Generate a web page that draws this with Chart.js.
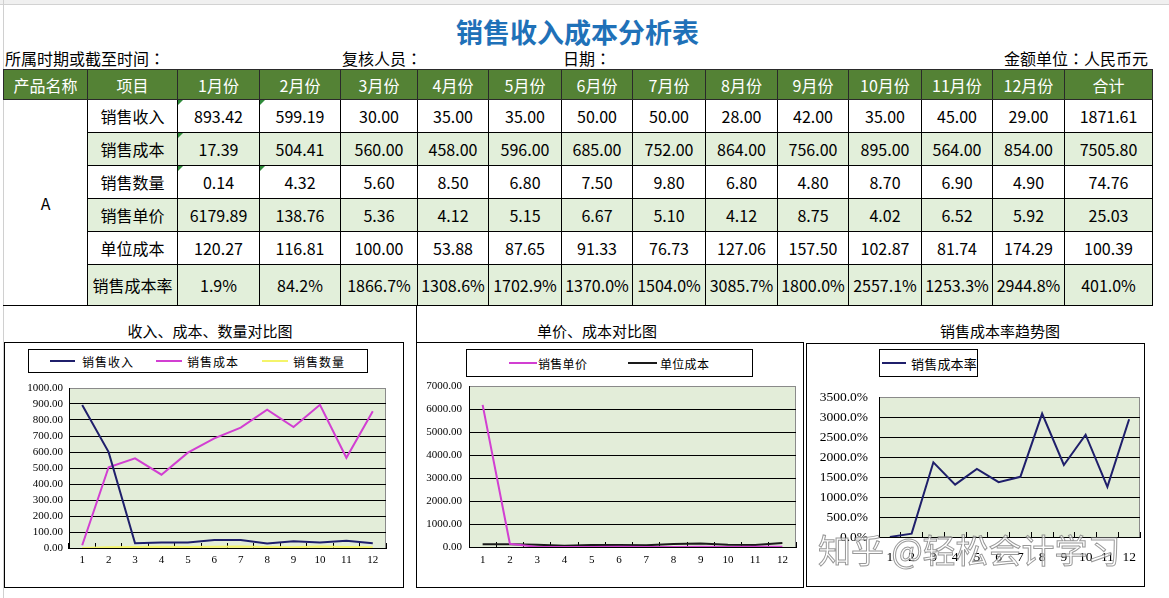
<!DOCTYPE html>
<html lang="zh-CN">
<head>
    <meta charset="UTF-8">
    <title>销售收入成本分析表</title>
    <style>
        body {
            margin: 0;
            width: 1169px;
            height: 598px;
            position: relative;
            overflow: hidden;
            background: #fff;
            font-family: "Noto Sans CJK SC", sans-serif;
            color: #000;
        }
        .abs { position: absolute; }
        #topStrip { left: 0; top: 0; width: 1169px; height: 4px; background: #f0f0f0; border-bottom: 1px solid #d2d2d2; }
        #gutter { left: 3px; top: 0; width: 1px; height: 598px; background: #d0d0d0; }
        #title {
            left: 0; width: 1155px; top: 12px;
            text-align: center; font-size: 27px; font-weight: bold;
            color: #1F71B8; line-height: 40px;
        }
        .sub { top: 48px; font-size: 16px; line-height: 20px; white-space: nowrap; }
        .colon { font-family: "Noto Sans CJK TC", sans-serif; }
        table {
            position: absolute; left: 3px; top: 69px;
            border-collapse: collapse; table-layout: fixed; width: 1149px;
        }
        th, td {
            border: 1px solid #000; padding: 0; text-align: center;
            font-size: 16px; font-weight: normal; white-space: nowrap;
        }
        th { background: #548235; color: #fff; height: 29px; border-color: #2a2a2a; }
        td { height: 32px; position: relative; }
        tr.alt td { background: #E2EFDA; }
        tr.last td { height: 40px; }
        td.prod { background: #fff !important; border-left-color: #d0d0d0; }
        td.mark::before {
            content: ''; position: absolute; left: 0; top: 0;
            border-top: 5px solid #2E8B3A; border-right: 5px solid transparent;
        }
        .ctitle { font-size: 15px; line-height: 20px; text-align: center; width: 300px; top: 321px; }
        .box { border: 1px solid #000; box-sizing: border-box; }
        .legend { border: 1px solid #000; box-sizing: border-box; background: #fff; }
        .item { position: absolute; top: 0; height: 100%; display: flex; align-items: center; white-space: nowrap; }
        .swatch { display: inline-block; height: 2px; }
        canvas { position: absolute; }
        #watermark {
            left: 818px; top: 529px; font-size: 33px; line-height: 40px; white-space: nowrap;
            color: rgba(255, 255, 255, 0.6); -webkit-text-stroke: 1px rgba(110, 110, 110, 0.7);
            pointer-events: none;
        }
    </style>
</head>
<body>
    <div id="topStrip" class="abs"></div>
    <div id="gutter" class="abs"></div>
    <div id="title" class="abs">销售收入成本分析表</div>
    <div class="abs sub" style="left:5px">所属时期或截至时间<span class="colon" lang="zh-TW">：</span></div>
    <div class="abs sub" style="left:342px">复核人员<span class="colon" lang="zh-TW">：</span></div>
    <div class="abs sub" style="left:563px">日期<span class="colon" lang="zh-TW">：</span></div>
    <div class="abs sub" style="left:1004px">金额单位<span class="colon" lang="zh-TW">：</span>人民币元</div>

    <table id="dataTable">
        <colgroup id="cols"></colgroup>
        <thead><tr id="headRow"></tr></thead>
        <tbody id="tableBody"></tbody>
    </table>

    <!-- chart 1 -->
    <div class="abs ctitle" style="left:60px">收入、成本、数量对比图</div>
    <div class="abs box" style="left:4px;top:342px;width:400px;height:246px"></div>
    <div class="abs legend" id="legend1" style="left:28px;top:349px;width:340px;height:24px"></div>
    <canvas id="chart1" width="398" height="208" style="left:5px;top:378px"></canvas>

    <!-- chart 2 -->
    <div class="abs" style="left:416px;top:305px;width:1px;height:38px;background:#000"></div>
    <div class="abs ctitle" style="left:447px">单价、成本对比图</div>
    <div class="abs box" style="left:416px;top:342px;width:388px;height:246px"></div>
    <div class="abs legend" id="legend2" style="left:466px;top:349px;width:287px;height:28px"></div>
    <canvas id="chart2" width="384" height="210" style="left:418px;top:376px"></canvas>

    <!-- chart 3 -->
    <div class="abs ctitle" style="left:850px">销售成本率趋势图</div>
    <div class="abs box" style="left:806px;top:343px;width:339px;height:244px"></div>
    <div class="abs legend" id="legend3" style="left:879px;top:349px;width:99px;height:28px"></div>
    <canvas id="chart3" width="336" height="200" style="left:807px;top:385px"></canvas>

    <div id="watermark" class="abs">知乎 @轻松会计学习</div>

    <script src="https://cdn.jsdelivr.net/npm/chart.js"></script>
    <script>
        const months = ['1月份', '2月份', '3月份', '4月份', '5月份', '6月份', '7月份', '8月份', '9月份', '10月份', '11月份', '12月份'];
        const monthNums = ['1', '2', '3', '4', '5', '6', '7', '8', '9', '10', '11', '12'];

        const salesRevenue = [893.42, 599.19, 30.00, 35.00, 35.00, 50.00, 50.00, 28.00, 42.00, 35.00, 45.00, 29.00];
        const salesCost = [17.39, 504.41, 560.00, 458.00, 596.00, 685.00, 752.00, 864.00, 756.00, 895.00, 564.00, 854.00];
        const salesQty = [0.14, 4.32, 5.60, 8.50, 6.80, 7.50, 9.80, 6.80, 4.80, 8.70, 6.90, 4.90];
        const unitPrice = [6179.89, 138.76, 5.36, 4.12, 5.15, 6.67, 5.10, 4.12, 8.75, 4.02, 6.52, 5.92];
        const unitCost = [120.27, 116.81, 100.00, 53.88, 87.65, 91.33, 76.73, 127.06, 157.50, 102.87, 81.74, 174.29];
        const costRate = [1.9, 84.2, 1866.7, 1308.6, 1702.9, 1370.0, 1504.0, 3085.7, 1800.0, 2557.1, 1253.3, 2944.8];
        const totals = [1871.61, 7505.80, 74.76, 25.03, 100.39, 401.0];

        const colWidths = [84, 90, 82, 81, 77, 71, 73, 71, 73, 72, 71, 73, 71, 72, 88];

        // ---- table ----
        const cols = document.getElementById('cols');
        colWidths.forEach(w => {
            const c = document.createElement('col');
            c.style.width = w + 'px';
            cols.appendChild(c);
        });
        const headRow = document.getElementById('headRow');
        ['产品名称', '项目', ...months, '合计'].forEach(h => {
            const th = document.createElement('th');
            th.innerText = h;
            headRow.appendChild(th);
        });

        const tableRows = [
            { name: '销售收入', values: salesRevenue, total: totals[0], pct: false },
            { name: '销售成本', values: salesCost, total: totals[1], pct: false },
            { name: '销售数量', values: salesQty, total: totals[2], pct: false },
            { name: '销售单价', values: unitPrice, total: totals[3], pct: false },
            { name: '单位成本', values: unitCost, total: totals[4], pct: false },
            { name: '销售成本率', values: costRate, total: totals[5], pct: true }
        ];
        // little green error markers in the sheet
        const marked = ['0-0', '0-1', '1-0', '2-0', '2-1'];

        const body = document.getElementById('tableBody');
        tableRows.forEach((row, r) => {
            const tr = document.createElement('tr');
            if (r % 2 === 1) tr.className = 'alt';
            if (r === tableRows.length - 1) tr.className += ' last';
            if (r === 0) {
                const prod = document.createElement('td');
                prod.className = 'prod';
                prod.rowSpan = tableRows.length;
                prod.innerText = 'A';
                tr.appendChild(prod);
            }
            const fmt = v => row.pct ? v.toFixed(1) + '%' : v.toFixed(2);
            const nameCell = document.createElement('td');
            nameCell.innerText = row.name;
            tr.appendChild(nameCell);
            row.values.forEach((v, i) => {
                const td = document.createElement('td');
                td.innerText = fmt(v);
                if (marked.includes(r + '-' + i)) td.className = 'mark';
                tr.appendChild(td);
            });
            const tot = document.createElement('td');
            tot.innerText = fmt(row.total);
            tr.appendChild(tot);
            body.appendChild(tr);
        });

        // ---- legends ----
        function buildLegend(id, items, fontSize, spacing) {
            const box = document.getElementById(id);
            items.forEach(it => {
                const el = document.createElement('div');
                el.className = 'item';
                el.style.left = it.left + 'px';
                el.style.fontSize = fontSize + 'px';
                el.style.letterSpacing = spacing + 'px';
                el.innerHTML = `<span class="swatch" style="width:${it.line}px;background:${it.color};margin-right:${it.gap}px"></span>${it.text}`;
                box.appendChild(el);
            });
        }

        const navy = '#1F1F6B';
        const magenta = '#D23FD2';
        const yellow = '#F4F46A';
        const dark = '#1A1A1A';

        buildLegend('legend1', [
            { left: 21, line: 25, gap: 7, color: navy, text: '销售收入' },
            { left: 127, line: 26, gap: 5, color: magenta, text: '销售成本' },
            { left: 233, line: 26, gap: 5, color: yellow, text: '销售数量' }
        ], 12, 1);
        buildLegend('legend2', [
            { left: 42, line: 28, gap: 1, color: magenta, text: '销售单价' },
            { left: 161, line: 29, gap: 3, color: dark, text: '单位成本' }
        ], 12, 0.3);
        buildLegend('legend3', [
            { left: 2, line: 24, gap: 5, color: navy, text: '销售成本率' }
        ], 13, 0.2);

        // ---- charts ----
        const plotBg = {
            id: 'plotBg',
            beforeDraw(chart) {
                const { ctx, chartArea: a } = chart;
                ctx.save();
                ctx.fillStyle = '#E3EDD9';
                ctx.fillRect(a.left, a.top, a.right - a.left, a.bottom - a.top);
                ctx.strokeStyle = '#8a8a8a';
                ctx.lineWidth = 1;
                ctx.strokeRect(a.left + 0.5, a.top + 0.5, a.right - a.left - 1, a.bottom - a.top);
                ctx.restore();
            }
        };

        function line(label, data, color) {
            return { label, data, borderColor: color, borderWidth: 2, pointRadius: 0, tension: 0, fill: false };
        }

        // keep the plot area where the sheet has it: no label overflow padding
        function noPad(s) {
            s.paddingTop = 0;
            s.paddingBottom = 0;
            s.paddingLeft = 0;
            s.paddingRight = 0;
        }

        function buildChart(id, datasets, yMax, yStep, fmt, g) {
            const canvas = document.getElementById(id);
            const font = { family: '"Liberation Serif", serif', size: g.font };
            return new Chart(canvas, {
                type: 'line',
                data: { labels: monthNums, datasets },
                options: {
                    responsive: false,
                    animation: false,
                    layout: { padding: { left: 0, top: g.top, right: canvas.width - g.right, bottom: 0 } },
                    plugins: { legend: { display: false }, tooltip: { enabled: false } },
                    scales: {
                        x: {
                            offset: true,
                            grid: { offset: true, drawOnChartArea: false, drawTicks: true, tickLength: -5, color: '#000' },
                            border: { color: '#000' },
                            ticks: { font, color: '#000', padding: g.xPad, maxRotation: 0, autoSkip: false },
                            afterFit: s => { s.height = canvas.height - g.bottom; noPad(s); }
                        },
                        y: {
                            min: 0,
                            max: yMax,
                            ticks: { stepSize: yStep, autoSkip: false, font, color: '#000', padding: g.yPad, callback: fmt },
                            grid: {
                                drawTicks: false,
                                color: ctx => (ctx.tick && ctx.tick.value >= yMax) ? 'rgba(0,0,0,0)' : '#000'
                            },
                            border: { color: '#000' },
                            afterFit: s => { s.width = g.left; noPad(s); }
                        }
                    }
                },
                plugins: [plotBg]
            });
        }

        buildChart('chart1', [
            line('销售收入', salesRevenue, navy),
            line('销售成本', salesCost, magenta),
            line('销售数量', salesQty, yellow)
        ], 1000, 100, v => v.toFixed(2), { left: 64, right: 381, top: 10, bottom: 170, font: 11, xPad: 11, yPad: 6 });

        buildChart('chart2', [
            line('销售单价', unitPrice, magenta),
            line('单位成本', unitCost, dark)
        ], 7000, 1000, v => v.toFixed(2), { left: 51, right: 378, top: 10, bottom: 171, font: 11, xPad: 12, yPad: 7 });

        buildChart('chart3', [
            line('销售成本率', costRate, navy)
        ], 3500, 500, v => v.toFixed(1) + '%', { left: 72, right: 333, top: 12, bottom: 152, font: 13.5, xPad: 17, yPad: 11 });
    </script>
</body>
</html>
